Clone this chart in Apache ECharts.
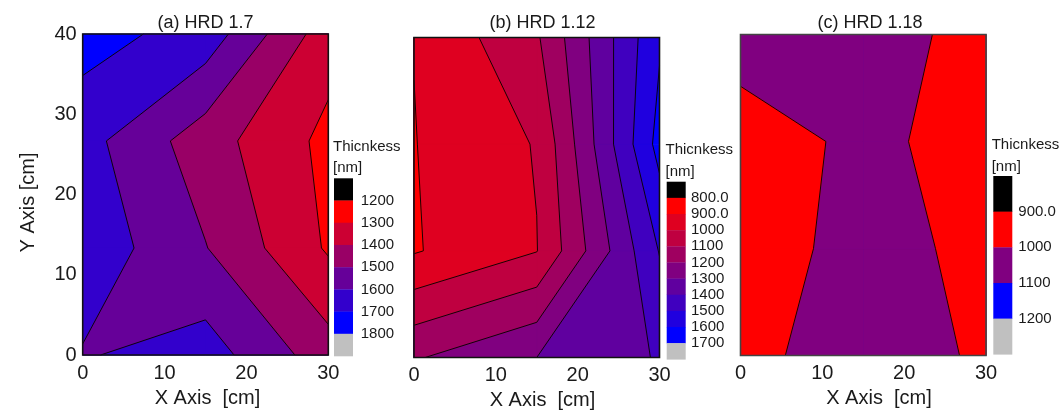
<!DOCTYPE html>
<html>
<head>
<meta charset="utf-8">
<script src="https://cdn.jsdelivr.net/npm/echarts@6/dist/echarts.min.js"></script>
<style>
  html, body { margin: 0; padding: 0; background: #fff; }
  #chart { width: 1064px; height: 415px; }
</style>
</head>
<body>
<div id="chart"></div>
<script>
// Measurement node positions on the substrate [cm]
const xNodes = [0, 15, 30];
const yNodes = [0, 13.33, 26.67, 40];

// Film thickness [nm] at each node; one row per yNodes entry (bottom to top), columns follow xNodes
const thicknessA = [
  [1592, 1647, 1445],
  [1669, 1504, 1288],
  [1637, 1445, 1273],
  [1740, 1659, 1343]
];
const thicknessB = [
  [1190, 1300, 1408],
  [892, 997, 1505],
  [897, 1006, 1636],
  [902, 1087, 1587]
];
const thicknessC = [
  [977, 1040, 989],
  [956, 1030, 979],
  [968, 1014, 976],
  [1030, 1040, 969]
];

// Contour levels [nm] and their colour-bar labels
const levelsA = [1200, 1300, 1400, 1500, 1600, 1700, 1800];
const levelsB = [800, 900, 1000, 1100, 1200, 1300, 1400, 1500, 1600, 1700];
const levelsC = [900, 1000, 1100, 1200];
const levelLabelsA = ['1200', '1300', '1400', '1500', '1600', '1700', '1800'];
const levelLabelsB = ['800.0', '900.0', '1000', '1100', '1200', '1300', '1400', '1500', '1600', '1700'];
const levelLabelsC = ['900.0', '1000', '1100', '1200'];

const panelTitles = ['(a) HRD 1.7', '(b) HRD 1.12', '(c) HRD 1.18'];
const xTicks = [0, 10, 20, 30];
const yTicks = [0, 10, 20, 30, 40];
const xAxisName = 'X Axis  [cm]';
const yAxisName = 'Y Axis [cm]';
const barTitle = 'Thicnkess';
const barUnit = '[nm]';

const FONT = "'Liberation Sans', Arial, sans-serif";
const TEXT = '#1a1a1a';
const BELOW_COLOR = '#000000';
const ABOVE_COLOR = '#c0c0c0';

// n band colours running from red (thin) to blue (thick)
function bandColors(n) {
  const out = [];
  for (let k = 0; k < n; k++) {
    const t = n === 1 ? 0 : k / (n - 1);
    out.push('rgb(' + Math.round(255 * (1 - t)) + ',0,' + Math.round(255 * t) + ')');
  }
  return out;
}

// Keep the part of a polygon where value <= L (values interpolated along edges)
function clipBelow(poly, L) {
  const out = [];
  for (let i = 0; i < poly.length; i++) {
    const a = poly[i], b = poly[(i + 1) % poly.length];
    const ain = a.v <= L, bin = b.v <= L;
    if (ain) out.push(a);
    if (ain !== bin) {
      const t = (L - a.v) / (b.v - a.v);
      out.push({ x: a.x + t * (b.x - a.x), y: a.y + t * (b.y - a.y), v: L });
    }
  }
  return out;
}

// Filled bands and contour segments from a node grid
function buildContours(values, levels) {
  const colors = bandColors(levels.length - 1);
  const cells = [];
  for (let j = 0; j < yNodes.length - 1; j++) {
    for (let i = 0; i < xNodes.length - 1; i++) {
      cells.push([
        { x: xNodes[i], y: yNodes[j], v: values[j][i] },
        { x: xNodes[i + 1], y: yNodes[j], v: values[j][i + 1] },
        { x: xNodes[i + 1], y: yNodes[j + 1], v: values[j + 1][i + 1] },
        { x: xNodes[i], y: yNodes[j + 1], v: values[j + 1][i] }
      ]);
    }
  }
  const fills = [];
  // whole cells in the "above range" colour, then each level downwards painted over
  cells.forEach(c => fills.push({ pts: c, color: ABOVE_COLOR }));
  for (let k = levels.length - 1; k >= 0; k--) {
    const color = k === 0 ? BELOW_COLOR : colors[k - 1];
    cells.forEach(c => {
      const p = clipBelow(c, levels[k]);
      if (p.length >= 3) fills.push({ pts: p, color: color });
    });
  }
  const segs = [];
  cells.forEach(c => {
    levels.forEach(L => {
      const cross = [];
      for (let e = 0; e < 4; e++) {
        const a = c[e], b = c[(e + 1) % 4];
        if ((a.v > L) !== (b.v > L)) {
          const t = (L - a.v) / (b.v - a.v);
          cross[e] = { x: a.x + t * (b.x - a.x), y: a.y + t * (b.y - a.y) };
        }
      }
      const found = cross.map((p, e) => p ? e : -1).filter(e => e >= 0);
      if (found.length === 2) {
        segs.push([cross[found[0]], cross[found[1]]]);
      } else if (found.length === 4) {
        // saddle: low corners stay connected, each high corner is cut off
        for (let k = 0; k < 4; k++) {
          if (c[k].v > L) segs.push([cross[(k + 3) % 4], cross[k]]);
        }
      }
    });
  });
  return { fills, segs, colors };
}

const panels = [
  { values: thicknessA, levels: levelsA, labels: levelLabelsA,
    grid: { left: 82.7, top: 34, width: 245.6, height: 321 }, frame: '#111',
    title: { x: 205.5, y: 23 }, xName: { x: 207.5, y: 398 }, yLabels: true,
    bar: { x: 334, top: 178.3, bottom: 356, w: 19, titleX: 333, titleY: 146.7, unitY: 168, labelX: 360.7 } },
  { values: thicknessB, levels: levelsB, labels: levelLabelsB,
    grid: { left: 414, top: 37.5, width: 245.5, height: 320 }, frame: '#111',
    title: { x: 542.5, y: 23.5 }, xName: { x: 542.5, y: 400 }, yLabels: false,
    bar: { x: 666.7, top: 181.7, bottom: 359.3, w: 19, titleX: 665.5, titleY: 150, unitY: 171.7, labelX: 691 } },
  { values: thicknessC, levels: levelsC, labels: levelLabelsC,
    grid: { left: 740.5, top: 34.5, width: 245.5, height: 321 }, frame: '#444',
    title: { x: 870, y: 22.7 }, xName: { x: 879, y: 398 }, yLabels: false,
    bar: { x: 993.3, top: 176, bottom: 354.3, w: 19, titleX: 991.7, titleY: 145, unitY: 166.7, labelX: 1018.3 } }
];

const grids = [], xAxes = [], yAxes = [], series = [], graphics = [];

panels.forEach((pn, idx) => {
  const con = buildContours(pn.values, pn.levels);
  grids.push(Object.assign({ containLabel: false }, pn.grid));
  xAxes.push({
    type: 'value', gridIndex: idx, min: xTicks[0], max: xTicks[xTicks.length - 1],
    interval: xTicks[1] - xTicks[0],
    axisLine: { show: false }, axisTick: { show: false }, splitLine: { show: false },
    axisLabel: { fontFamily: FONT, fontSize: 20, color: TEXT, margin: 8, lineHeight: 20 }
  });
  yAxes.push({
    type: 'value', gridIndex: idx, min: yTicks[0], max: yTicks[yTicks.length - 1],
    interval: yTicks[1] - yTicks[0],
    axisLine: { show: false }, axisTick: { show: false }, splitLine: { show: false },
    axisLabel: { show: pn.yLabels, fontFamily: FONT, fontSize: 20, color: TEXT, margin: 6 }
  });
  series.push({
    type: 'custom', xAxisIndex: idx, yAxisIndex: idx, silent: true, animation: false,
    data: [[0, 0]],
    renderItem: function (params, api) {
      const children = [];
      con.fills.forEach(f => {
        children.push({
          type: 'polygon',
          shape: { points: f.pts.map(p => api.coord([p.x, p.y])) },
          style: { fill: f.color, stroke: f.color, lineWidth: 0.8 }
        });
      });
      con.segs.forEach(s => {
        const a = api.coord([s[0].x, s[0].y]), b = api.coord([s[1].x, s[1].y]);
        children.push({
          type: 'line',
          shape: { x1: a[0], y1: a[1], x2: b[0], y2: b[1] },
          style: { stroke: '#000', lineWidth: 0.9 }
        });
      });
      const tl = api.coord([xTicks[0], yTicks[yTicks.length - 1]]);
      const br = api.coord([xTicks[xTicks.length - 1], yTicks[0]]);
      children.push({
        type: 'rect',
        shape: { x: tl[0], y: tl[1], width: br[0] - tl[0], height: br[1] - tl[1] },
        style: { fill: null, stroke: pn.frame, lineWidth: 1.6 }
      });
      return { type: 'group', children: children };
    }
  });

  // panel title and x-axis name
  graphics.push({
    type: 'text', x: pn.title.x, y: pn.title.y, silent: true,
    style: { text: panelTitles[idx], font: '18px ' + FONT, fill: TEXT, textAlign: 'center', textVerticalAlign: 'middle', verticalAlign: 'middle' }
  });
  graphics.push({
    type: 'text', x: pn.xName.x, y: pn.xName.y, silent: true,
    style: { text: xAxisName, font: '20px ' + FONT, fill: TEXT, textAlign: 'center', textVerticalAlign: 'middle', verticalAlign: 'middle' }
  });

  // colour bar: below-range block, bands, above-range block
  const b = pn.bar;
  const blocks = [BELOW_COLOR].concat(con.colors, [ABOVE_COLOR]);
  const h = (b.bottom - b.top) / blocks.length;
  blocks.forEach((c, k) => {
    graphics.push({
      type: 'rect', silent: true,
      shape: { x: b.x, y: b.top + k * h, width: b.w, height: h + 0.3 },
      style: { fill: c }
    });
  });
  pn.labels.forEach((t, k) => {
    graphics.push({
      type: 'text', x: b.labelX, y: b.top + (k + 1) * h, silent: true,
      style: { text: t, font: '15px ' + FONT, fill: TEXT, textAlign: 'left', textVerticalAlign: 'middle', verticalAlign: 'middle' }
    });
  });
  graphics.push({
    type: 'text', x: b.titleX, y: b.titleY, silent: true,
    style: { text: barTitle, font: '15px ' + FONT, fill: TEXT, textAlign: 'left', textVerticalAlign: 'middle', verticalAlign: 'middle' }
  });
  graphics.push({
    type: 'text', x: b.titleX, y: b.unitY, silent: true,
    style: { text: barUnit, font: '15px ' + FONT, fill: TEXT, textAlign: 'left', textVerticalAlign: 'middle', verticalAlign: 'middle' }
  });
});

// y-axis name of the first panel
graphics.push({
  type: 'text', x: 28, y: 202.5, rotation: Math.PI / 2, silent: true,
  style: { text: yAxisName, font: '20px ' + FONT, fill: TEXT, textAlign: 'center', textVerticalAlign: 'middle', verticalAlign: 'middle' }
});

const chart = echarts.init(document.getElementById('chart'), null, { renderer: 'canvas' });
chart.setOption({
  backgroundColor: '#ffffff',
  animation: false,
  grid: grids,
  xAxis: xAxes,
  yAxis: yAxes,
  series: series,
  graphic: { elements: graphics }
});
</script>
</body>
</html>
